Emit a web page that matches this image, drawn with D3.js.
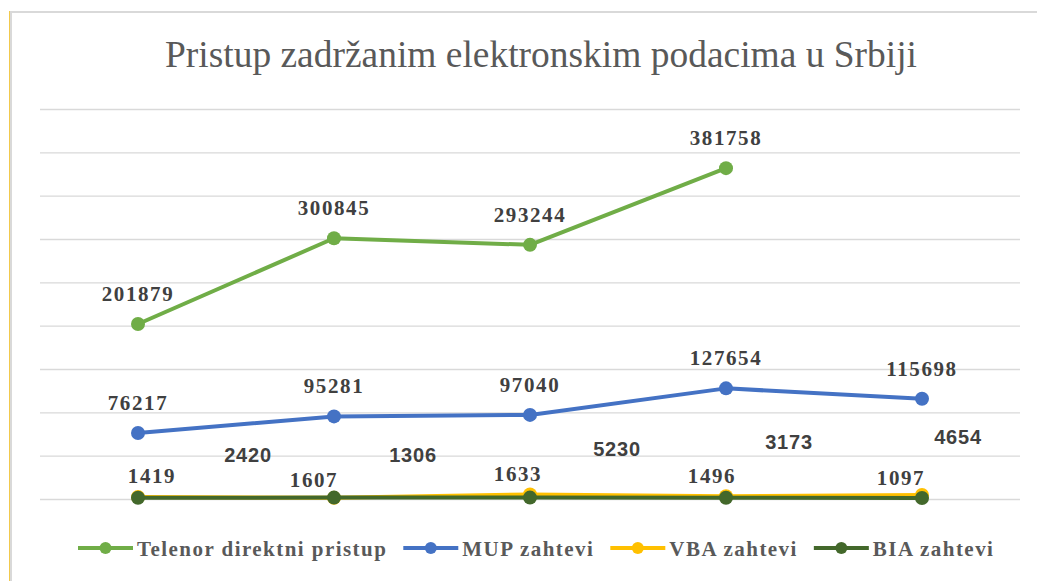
<!DOCTYPE html>
<html lang="sr">
<head>
<meta charset="UTF-8">
<title>Pristup zadržanim elektronskim podacima u Srbiji</title>
<script src="https://cdn.jsdelivr.net/npm/d3@7"></script>
<style>
  body { margin: 0; background: #fff; }
  svg { display: block; }
  .serif { font-family: "Times New Roman", Times, "Liberation Serif", "DejaVu Serif", "Noto Serif", Georgia, serif; }
  .sans { font-family: "Liberation Sans", Arial, "DejaVu Sans", sans-serif; }
</style>
</head>
<body>
<script>
// categories (no x labels shown in the chart)
var categories = ["2013", "2014", "2015", "2016", "2017"];

var seriesNames = ["Telenor direktni pristup", "MUP zahtevi", "VBA zahtevi", "BIA zahtevi"];
var telenor = [201879, 300845, 293244, 381758, null];
var mup     = [76217, 95281, 97040, 127654, 115698];
var vba     = [2420, 1306, 5230, 3173, 4654];
var bia     = [1419, 1607, 1633, 1496, 1097];

var yTicks = [0, 50000, 100000, 150000, 200000, 250000, 300000, 350000, 400000, 450000];

var colors = ["#70AD47", "#4472C4", "#FFC000", "#43682B"];

// hand-moved data labels in the original (dx, dy from the point)
var vbaNudge = [[110, -35], [79, -36], [87, -38], [63, -47], [36, -51]];
var biaNudge = [[14, -15], [-20, -11], [-12, -17], [-14, -15], [-21, -13]];

var width = 1037, height = 581;
var svg = d3.select("body").append("svg").attr("width", width).attr("height", height);

// chart frame
svg.append("line").attr("x1", 9).attr("x2", width).attr("y1", 12).attr("y2", 12)
  .attr("stroke", "#d9d9d9").attr("stroke-width", 2);
svg.append("line").attr("x1", 11).attr("x2", 11).attr("y1", 11).attr("y2", height)
  .attr("stroke", "#d9d9d9").attr("stroke-width", 2);
svg.append("line").attr("x1", 9.5).attr("x2", 9.5).attr("y1", 11).attr("y2", height)
  .attr("stroke", "#f2c94c").attr("stroke-width", 1);

var x = d3.scalePoint().domain(d3.range(categories.length)).range([40, 1020]).padding(0.5);
var y = d3.scaleLinear().domain([0, 450000]).range([499, 109]);

// gridlines
var grid = svg.append("g").attr("transform", "translate(40,0)")
  .call(d3.axisLeft(y).tickValues(yTicks).tickSize(-980).tickFormat(""));
grid.select(".domain").remove();
grid.selectAll(".tick line").attr("stroke", "#d9d9d9").attr("stroke-width", 1.3);

// title
svg.append("text")
  .attr("class", "serif")
  .attr("x", 541).attr("y", 67)
  .attr("text-anchor", "middle")
  .attr("font-size", 37)
  .attr("fill", "#595959")
  .attr("textLength", 752).attr("lengthAdjust", "spacingAndGlyphs")
  .text("Pristup zadržanim elektronskim podacima u Srbiji");

var allSeries = [telenor, mup, vba, bia];

var line = d3.line()
  .defined(function(d) { return d != null; })
  .x(function(d, i) { return x(i); })
  .y(function(d) { return y(d); });

allSeries.forEach(function(vals, s) {
  svg.append("path").datum(vals)
    .attr("d", line)
    .attr("fill", "none")
    .attr("stroke", colors[s])
    .attr("stroke-width", 4)
    .attr("stroke-linejoin", "round");
  svg.selectAll(".pt" + s)
    .data(vals.map(function(v, i) { return {v: v, i: i}; }).filter(function(d) { return d.v != null; }))
    .enter().append("circle")
    .attr("cx", function(d) { return x(d.i); })
    .attr("cy", function(d) { return y(d.v); })
    .attr("r", 7)
    .attr("fill", colors[s]);
});

// data labels
function labels(vals, nudge, serif) {
  svg.append("g").selectAll("text")
    .data(vals.map(function(v, i) { return {v: v, i: i}; }).filter(function(d) { return d.v != null; }))
    .enter().append("text")
    .attr("class", serif ? "serif" : "sans")
    .attr("x", function(d) { return x(d.i) + (nudge ? nudge[d.i][0] : 0); })
    .attr("y", function(d) { return y(d.v) + (nudge ? nudge[d.i][1] : -23); })
    .attr("text-anchor", "middle")
    .attr("font-weight", "bold")
    .attr("font-size", serif ? 21 : 20)
    .attr("letter-spacing", serif ? 1.6 : 0.8)
    .attr("fill", "#404040")
    .text(function(d) { return d.v; });
}
labels(telenor, null, true);
labels(mup, null, true);
labels(vba, vbaNudge, false);
labels(bia, biaNudge, true);

// legend
var legend = svg.append("g").attr("transform", "translate(78,548)");
var lx = 0;
seriesNames.forEach(function(name, s) {
  var g = legend.append("g").attr("transform", "translate(" + lx + ",0)");
  g.append("line").attr("x1", 0).attr("x2", 55).attr("y1", 0).attr("y2", 0)
    .attr("stroke", colors[s]).attr("stroke-width", 4);
  g.append("circle").attr("cx", 27.5).attr("cy", 0).attr("r", 6).attr("fill", colors[s]);
  var t = g.append("text").attr("class", "serif").attr("x", 59).attr("y", 8)
    .attr("font-weight", "bold")
    .attr("font-size", 21)
    .attr("letter-spacing", 1.45)
    .attr("fill", "#595959")
    .text(name);
  lx += 59 + t.node().getComputedTextLength() + 16;
});
</script>
</body>
</html>
